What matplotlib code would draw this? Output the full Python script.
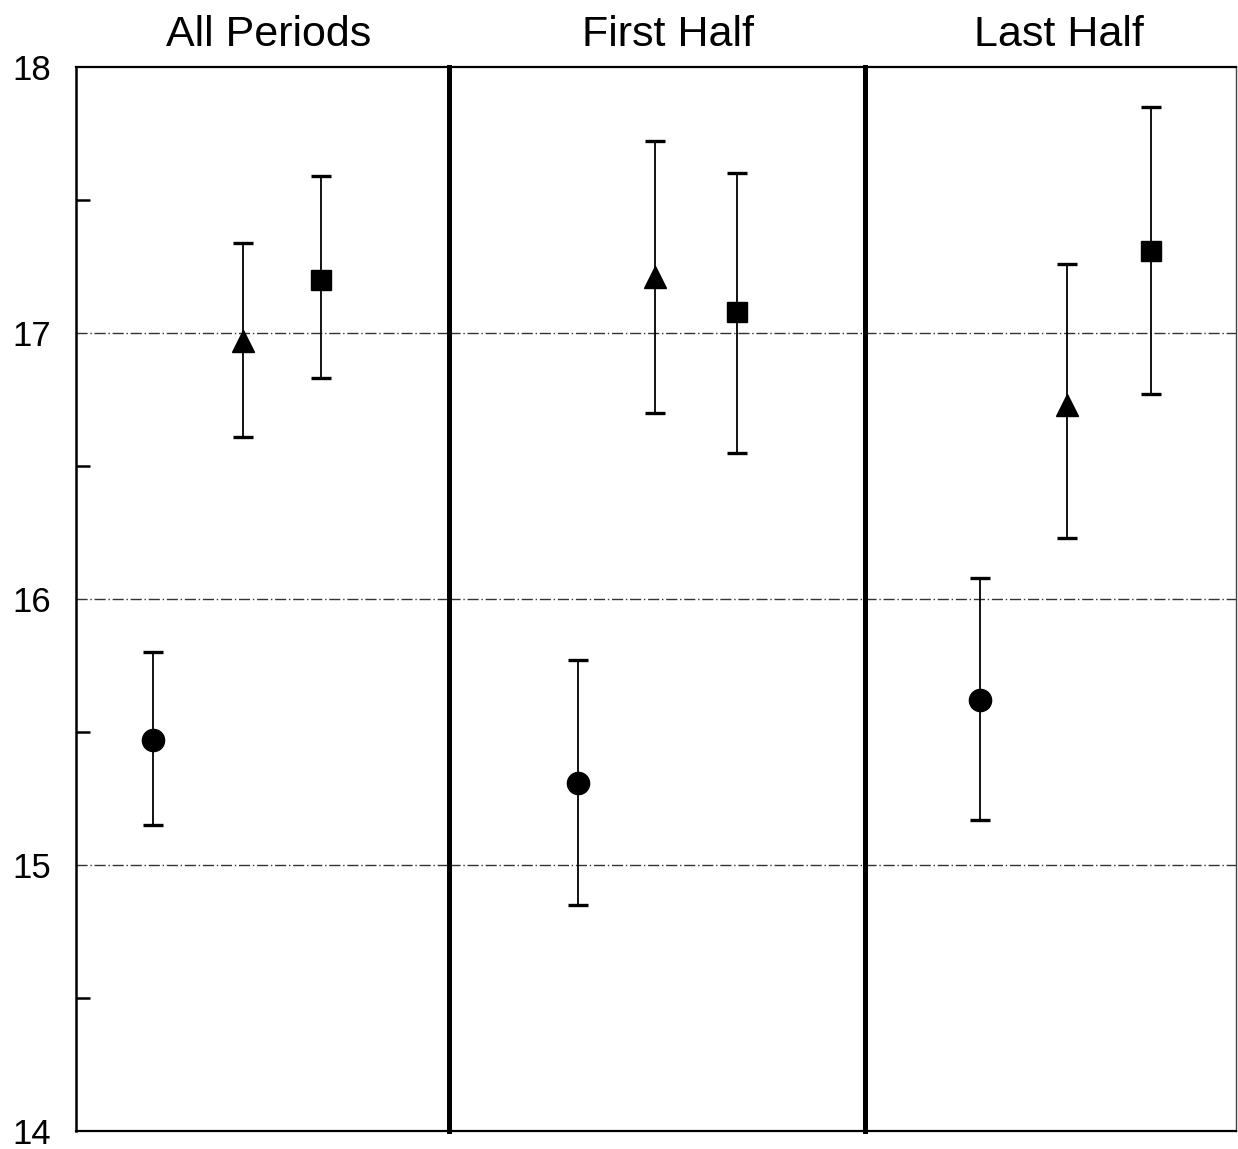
import matplotlib
matplotlib.use("Agg")
import matplotlib.pyplot as plt
from matplotlib.ticker import FixedLocator

plt.rcParams['font.family'] = ['Liberation Sans', 'DejaVu Sans']

panel_titles = ["All Periods", "First Half", "Last Half"]
title_x = [0.516, 0.526, 0.522]
markers = ["o", "^", "s"]

# within-panel horizontal placement of the three groups (axis fraction)
x_pos = [[0.206, 0.448, 0.657],
         [0.310, 0.495, 0.692],
         [0.310, 0.544, 0.771]]

means = [[15.47, 16.97, 17.20],
         [15.31, 17.21, 17.08],
         [15.62, 16.73, 17.31]]
upper = [[15.80, 17.34, 17.59],
         [15.77, 17.72, 17.60],
         [16.08, 17.26, 17.85]]
lower = [[15.15, 16.61, 16.83],
         [14.85, 16.70, 16.55],
         [15.17, 16.23, 16.77]]

y_major = [14, 15, 16, 17, 18]
y_minor = [14.5, 15.5, 16.5, 17.5]
grid_y = [15, 16, 17]

W, H = 1238, 1149
fig = plt.figure(figsize=(W / 100, H / 100), dpi=100)

edges = [76, 449, 865, 1236]
top_px, bot_px = 67, 1131
msizes = {"o": 16, "^": 16, "s": 14}

for i in range(3):
    l = edges[i] / W
    w = (edges[i + 1] - edges[i]) / W
    b = 1 - bot_px / H
    h = (bot_px - top_px) / H
    ax = fig.add_axes([l, b, w, h])
    ax.set_xlim(0, 1)
    ax.set_ylim(14, 18)
    for gy in grid_y:
        ax.axhline(gy, color="#333333", lw=1.0, ls=(0, (8, 2, 1, 2)), zorder=1)
    for j in range(3):
        m = means[i][j]
        err = [[m - lower[i][j]], [upper[i][j] - m]]
        ax.errorbar([x_pos[i][j]], [m], yerr=err, fmt=markers[j], color="black",
                    ms=msizes[markers[j]], elinewidth=1.3, capsize=7.5, capthick=2.4,
                    zorder=3)
    ax.set_xticks([])
    ax.set_title(panel_titles[i], fontsize=31, pad=15, x=title_x[i])
    for s in ["top", "bottom"]:
        ax.spines[s].set_linewidth(1.6)
    ax.spines["right"].set_visible(False)
    if i == 0:
        ax.spines["left"].set_linewidth(1.8)
        ax.yaxis.set_major_locator(FixedLocator(y_major))
        ax.yaxis.set_minor_locator(FixedLocator(y_minor))
        ax.tick_params(axis="y", which="major", length=0, labelsize=25, pad=18)
        ax.tick_params(axis="y", which="minor", direction="in", length=10, width=1.8)
    else:
        ax.spines["left"].set_linewidth(3.6)
        ax.set_yticks([])
    if i == 2:
        ax.spines["right"].set_visible(True)
        ax.spines["right"].set_linewidth(1.0)
        ax.spines["right"].set_color("#444444")

fig.savefig("out.png", dpi=100)
